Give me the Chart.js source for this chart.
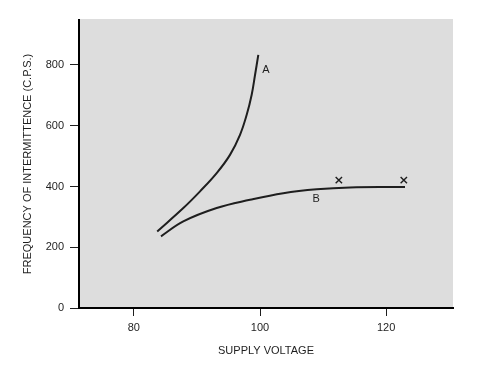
<!DOCTYPE html>
<html>
<head>
<meta charset="utf-8">
<script src="https://cdn.jsdelivr.net/npm/chart.js@4/dist/chart.umd.min.js"></script>
<style>
    html, body { margin: 0; padding: 0; background: #fff; }
    #wrap { width: 498px; height: 374px; }
</style>
</head>
<body>
<div id="wrap"><canvas id="freq"></canvas></div>
<script>
// curve A: supply voltage vs frequency
const voltsA = [83.7, 87.84, 90.49, 93.13, 95.24, 96.83, 97.89, 98.68, 99.21, 99.73];
const freqA = [252, 329, 384, 444, 504, 570, 636, 702, 767, 833];
// curve B
const voltsB = [84.3, 87.84, 93.13, 98.41, 103.69, 108.99, 114.27, 122.99];
const freqB = [236, 285, 329, 356, 378, 391, 397, 398];
// x marks above curve B
const markVolts = [112.5, 122.8];
const markFreq = [421, 421];
// curve letters
const letters = ['A', 'B'];
const letterVolts = [100.95, 108.9];
const letterFreq = [783, 359];
const xTicks = [80, 100, 120];
const yTicks = [0, 200, 400, 600, 800];

const ink = '#1e1e1e';
const fontFamily = '"Liberation Sans", Arial, sans-serif';

const toPoints = (xs, ys) => xs.map((x, i) => ({ x: x, y: ys[i] }));

const plotBackground = {
    id: 'plotBackground',
    beforeDraw(chart) {
        const { ctx, chartArea } = chart;
        ctx.save();
        ctx.fillStyle = '#dddddd';
        ctx.fillRect(chartArea.left, chartArea.top - 1, chartArea.right - chartArea.left, chartArea.bottom - chartArea.top + 1);
        ctx.restore();
    }
};

const curveLetters = {
    id: 'curveLetters',
    afterDatasetsDraw(chart) {
        const { ctx, scales } = chart;
        ctx.save();
        ctx.fillStyle = ink;
        ctx.font = '11px ' + fontFamily;
        ctx.textAlign = 'center';
        ctx.textBaseline = 'middle';
        letters.forEach((t, i) => {
            ctx.fillText(t, scales.x.getPixelForValue(letterVolts[i]), scales.y.getPixelForValue(letterFreq[i]));
        });
        ctx.restore();
    }
};

new Chart(document.getElementById('freq'), {
    type: 'scatter',
    data: {
        datasets: [
            {
                data: toPoints(voltsA, freqA),
                showLine: true,
                borderColor: ink,
                borderWidth: 2,
                pointRadius: 0,
                tension: 0.4
            },
            {
                data: toPoints(voltsB, freqB),
                showLine: true,
                borderColor: ink,
                borderWidth: 2,
                pointRadius: 0,
                tension: 0.4
            },
            {
                data: toPoints(markVolts, markFreq),
                showLine: false,
                pointStyle: 'crossRot',
                pointRadius: 4.5,
                borderColor: ink,
                borderWidth: 1.4
            }
        ]
    },
    options: {
        responsive: true,
        maintainAspectRatio: false,
        animation: false,
        layout: { padding: { left: 0, right: 45, top: 20, bottom: 0 } },
        plugins: {
            legend: { display: false },
            tooltip: { enabled: false }
        },
        scales: {
            x: {
                type: 'linear',
                min: 71.3,
                max: 130.6,
                afterBuildTicks: scale => { scale.ticks = xTicks.map(v => ({ value: v })); },
                afterFit: scale => { scale.height = 66; },
                grid: { drawOnChartArea: false, drawTicks: true, tickLength: 8, tickColor: ink, tickWidth: 1 },
                border: { color: '#000', width: 2 },
                ticks: { color: ink, font: { family: fontFamily, size: 11 }, padding: 5, maxRotation: 0 },
                title: {
                    display: true,
                    text: 'SUPPLY VOLTAGE',
                    color: ink,
                    font: { family: fontFamily, size: 11 },
                    padding: { top: 0, bottom: 16 }
                }
            },
            y: {
                type: 'linear',
                min: 0,
                max: 948,
                afterBuildTicks: scale => { scale.ticks = yTicks.map(v => ({ value: v })); },
                afterFit: scale => { scale.width = 79; },
                grid: { drawOnChartArea: false, drawTicks: true, tickLength: 9, tickColor: ink, tickWidth: 1 },
                border: { color: '#000', width: 2 },
                ticks: { color: ink, font: { family: fontFamily, size: 11 }, padding: 6 },
                title: {
                    display: true,
                    text: 'FREQUENCY OF INTERMITTENCE (C.P.S.)',
                    color: ink,
                    font: { family: fontFamily, size: 11 },
                    padding: { top: 21, bottom: 0 }
                }
            }
        }
    },
    plugins: [plotBackground, curveLetters]
});
</script>
</body>
</html>
